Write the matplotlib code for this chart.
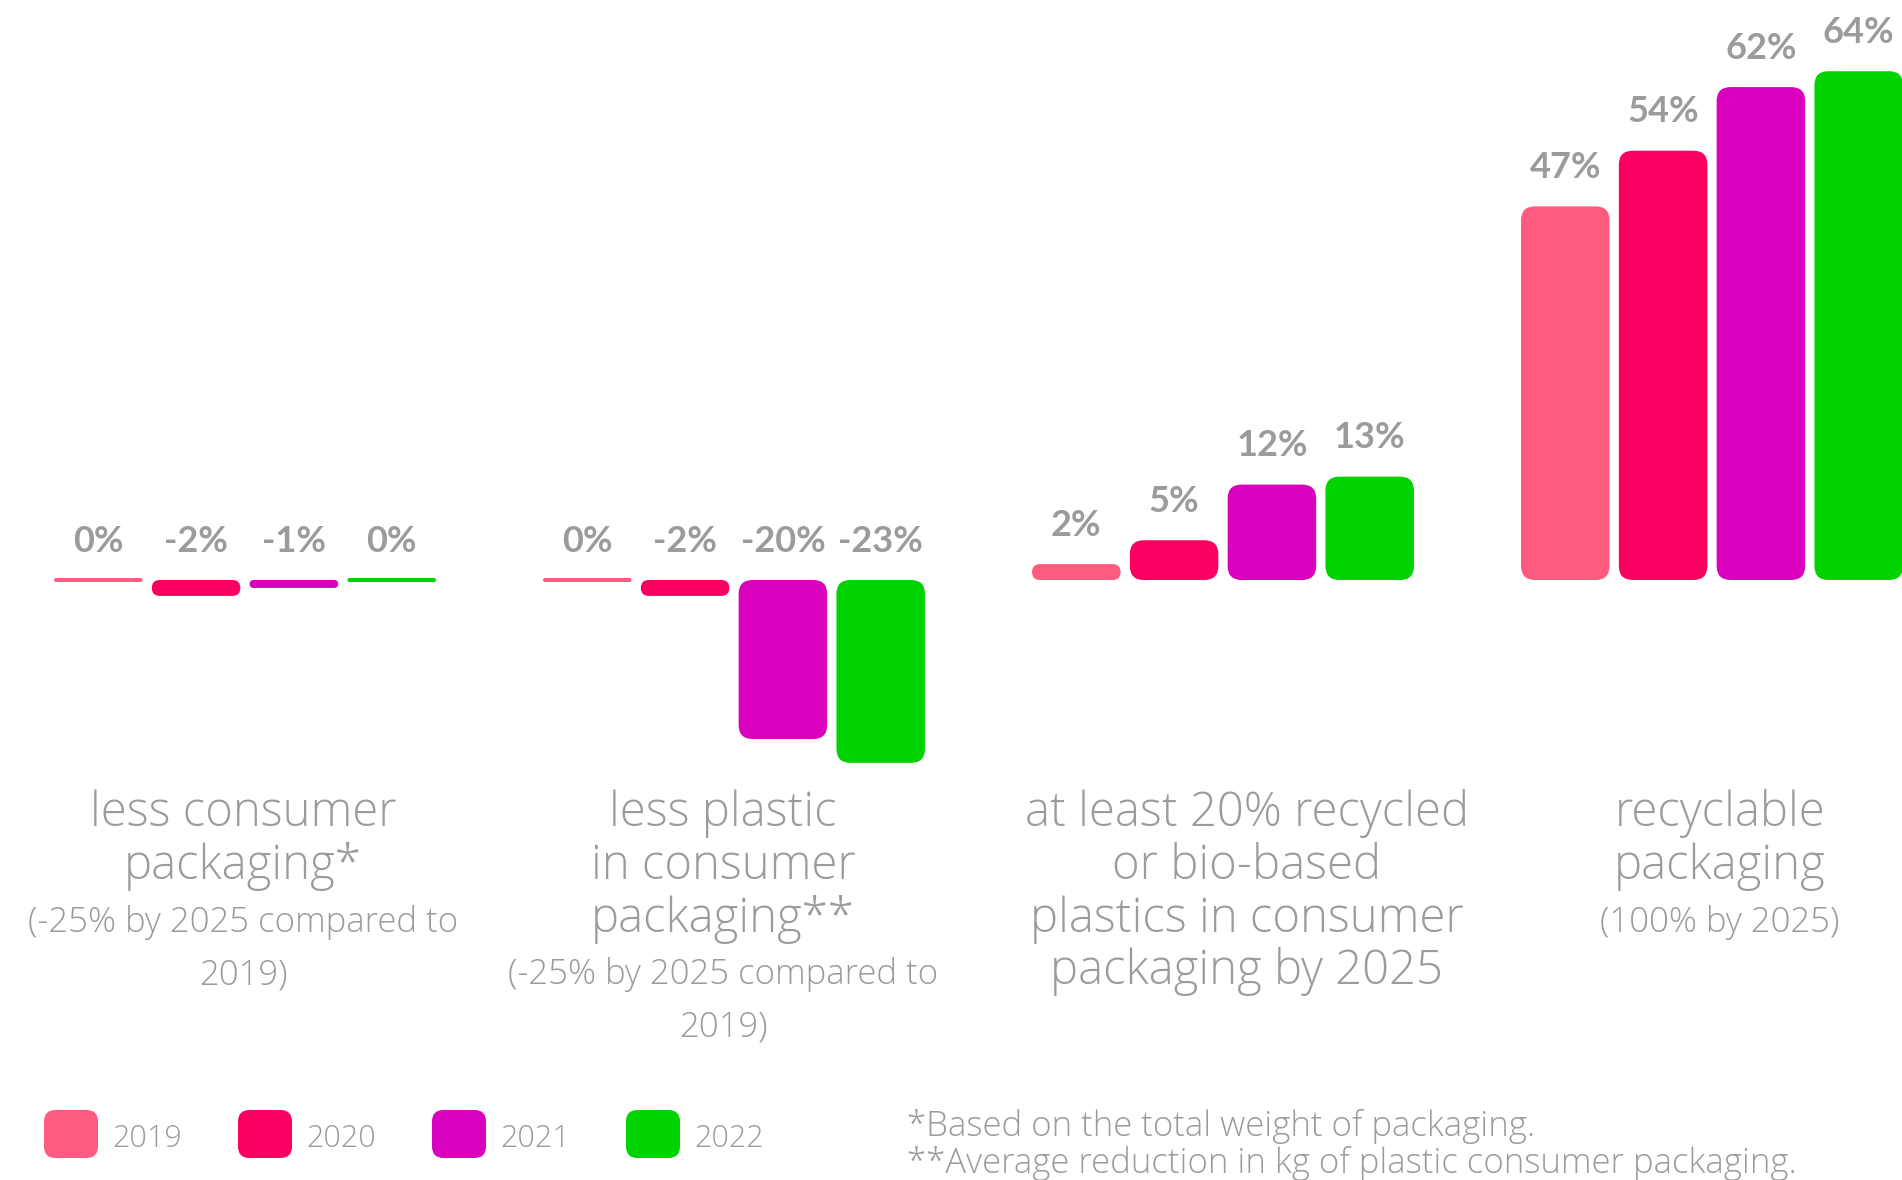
import numpy as np
import matplotlib
matplotlib.use("Agg")
import matplotlib.pyplot as plt
from matplotlib.patches import FancyBboxPatch

years = ["2019", "2020", "2021", "2022"]
colors = ["#FF5A80", "#FA0060", "#D900BE", "#00D300"]
values = {
    "2019": [0, 0, 2, 47],
    "2020": [-2, -2, 5, 54],
    "2021": [-1, -20, 12, 62],
    "2022": [0, -23, 13, 64],
}
titles = [
    ["less consumer", "packaging*"],
    ["less plastic", "in consumer", "packaging**"],
    ["at least 20% recycled", "or bio-based", "plastics in consumer", "packaging by 2025"],
    ["recyclable", "packaging"],
]
subtitles = [
    ["(-25% by 2025 compared to", "2019)"],
    ["(-25% by 2025 compared to", "2019)"],
    [],
    ["(100% by 2025)"],
]
footnotes = [
    "*Based on the total weight of packaging.",
    "**Average reduction in kg of plastic consumer packaging.",
]

W, H = 1902, 1180
GRAY = "#9B9B9B"
BOLD = ["Lato", "DejaVu Sans"]
FONT = ["Open Sans", "DejaVu Sans"]

# pixel layout of the axes: group spacing and scale
base_px = 580.0          # y pixel of zero line
px_per_pct = 7.95
group_px = 489.0
first_center_px = 245.0
pitch = 0.2              # bar pitch in group units
width = 0.181
label_shift_px = [-2, -11, 24, 8]

fig = plt.figure(figsize=(W / 100, H / 100), dpi=100)
ax = fig.add_axes([0, 0, 1, 1])
ax.set_xlim(-first_center_px / group_px, (W - first_center_px) / group_px)
ax.set_ylim(-(H - base_px) / px_per_pct, base_px / px_per_pct)
ax.axis("off")

aspect = (1 / px_per_pct) / (1 / group_px)
rad_px = 14.0
min_px = 4.0
label_gap = 39.0 / px_per_pct

for j, yr in enumerate(years):
    for i, v in enumerate(values[yr]):
        x = i + (j - 1.5) * pitch
        h = v
        y0 = 0 if v >= 0 else v
        if abs(v) * px_per_pct < min_px:
            h = min_px / px_per_pct
            y0 = -h / 2
        hh = abs(h)
        r = min(rad_px, hh * px_per_pct / 2, width * group_px / 2) / group_px
        patch = FancyBboxPatch((x - width / 2, y0), width, hh,
                               boxstyle=f"round,pad=0,rounding_size={r}",
                               mutation_aspect=aspect, facecolor=colors[j],
                               edgecolor="none")
        ax.add_patch(patch)
        ax.text(x, max(v, 0) + label_gap, f"{v}%", ha="center", va="center",
                fontsize=26, fontweight="bold", color=GRAY, family=BOLD)

# category labels (baseline grid)
line0 = 826.5
line_px = 52.5
for i in range(4):
    xf = (first_center_px + i * group_px + label_shift_px[i]) / W
    k = 0
    for t in titles[i]:
        fig.text(xf, 1 - (line0 + k * line_px) / H, t, ha="center", va="baseline",
                 fontsize=34, fontweight="light", color=GRAY, family=FONT)
        k += 1
    for t in subtitles[i]:
        fig.text(xf, 1 - (line0 + k * line_px) / H, t, ha="center", va="baseline",
                 fontsize=25, fontweight="light", color=GRAY, family=FONT)
        k += 1

# legend
for j, yr in enumerate(years):
    lx = 44 + j * 194
    box = FancyBboxPatch((lx / W, 1 - 1158 / H), 54 / W, 48 / H,
                         boxstyle="round,pad=0,rounding_size=0.006",
                         mutation_aspect=W / H, transform=fig.transFigure,
                         facecolor=colors[j], edgecolor="none")
    fig.patches.append(box)
    fig.text((lx + 68) / W, 1 - 1139 / H, yr, ha="left", va="center",
             fontsize=22, fontweight="light", color=GRAY, family=FONT)

for k, t in enumerate(footnotes):
    fig.text(907 / W, 1 - (1136 + k * 37) / H, t, ha="left", va="baseline",
             fontsize=25, fontweight="light", color=GRAY, family=FONT)

fig.savefig("out.png", dpi=100, facecolor="white")
